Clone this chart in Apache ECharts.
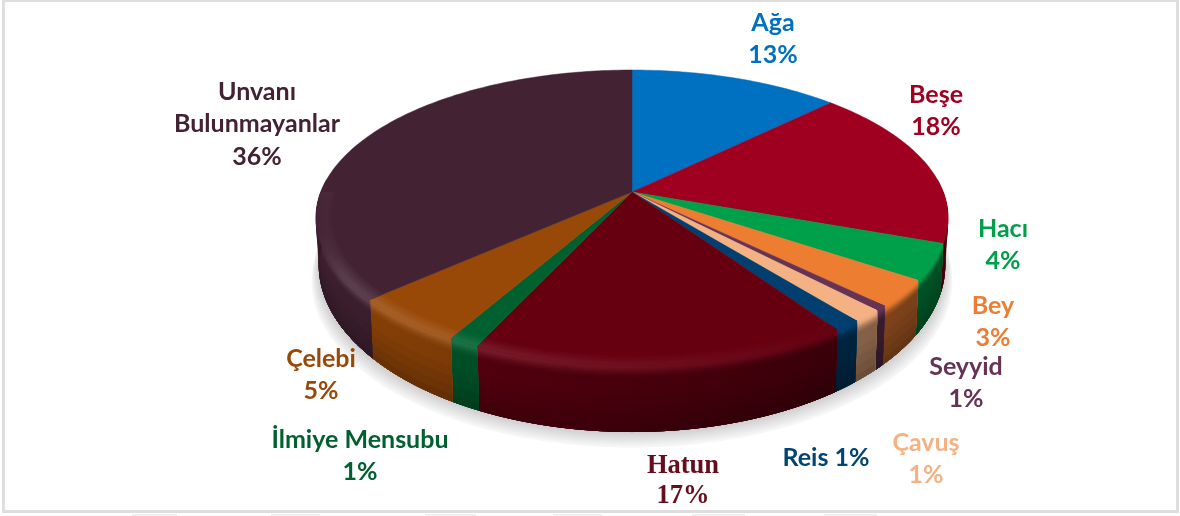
<!DOCTYPE html>
<html><head><meta charset="utf-8">
<style>html,body{margin:0;padding:0;background:#fff}#c{width:1180px;height:516px}</style>
<script src="https://cdn.jsdelivr.net/npm/echarts@6/dist/echarts.min.js"></script>
</head><body><div id="c"></div>
<script>
const categories = ['Ağa','Beşe','Hacı','Bey','Seyyid','Çavuş','Reis','Hatun','İlmiye Mensubu','Çelebi','Unvanı Bulunmayanlar'];
const percentLabels = [13,18,4,3,1,1,1,17,1,5,36];
const sliceShares = [12.7,17.8,3.9,2.95,0.55,1.35,1.2,16.45,1.35,5.15,36.6];

const faceColors = ['#0070c0','#a00020','#00a04a','#ed7d31','#663355','#f4b183','#003f6f','#660011','#00602f','#984807','#432233'];
const textColors = ['#0070c0','#a00020','#00a04a','#ed7d31','#663355','#f4b183','#004574','#660d1e','#00602f','#984807','#432233'];
const labelPlace = [[773,39],[936,111],[1003,245],[993,322],[966,383],[926,459],[826,458],[683,481],[360,456],[321,375],[257,124]];
const ghostSpans = [[132,177],[271,320],[425,476],[553,602],[692,745],[824,877]];

const G = {cx:632, cy:192, a:311.2, b:143.1, k:0.173, sx:0.99, sy:1.13, h:44};
const RAD=Math.PI/180;
function topPt(th, r){ r = r===undefined?1:r;
  const u=r*Math.sin(th), v=-r*Math.cos(th), w=1-G.k*v;
  return [G.cx+G.a*u/w, G.cy+G.b*v/w];
}
function bot(th){
  const p=topPt(th);
  return [G.cx+G.sx*(p[0]-G.cx), G.cy+G.h+G.sy*(p[1]-G.cy)];
}
function side(th, d){
  const a=topPt(th), b=bot(th);
  const t=Math.min(1,d/(b[1]-a[1]));
  return [a[0]+(b[0]-a[0])*t, a[1]+(b[1]-a[1])*t];
}
function rgb(h){return [1,3,5].map(i=>parseInt(h.substr(i,2),16));}
function css(c){return 'rgb('+c.map(v=>Math.round(Math.max(0,Math.min(255,v)))).join(',')+')';}
function mix(c,d,t){return c.map((v,i)=>v+(d[i]-v)*t);}
function mul(c,f){return c.map(v=>v*f);}
function clamp(v){return Math.max(0,Math.min(1,v));}
function hlAt(x){return 0.15*clamp((x-316)/30)*clamp(1-(x-340)/510);}
function sideF(x){return 0.9-0.4*clamp((x-320)/610);}

const cum=[0]; sliceShares.forEach(s=>cum.push(cum[cum.length-1]+s));
const total=cum[cum.length-1];
const ang=i=>cum[i]/total*2*Math.PI;
const WHITE=[255,255,255];

function arcRange(lo,hi,fn){
  const n=Math.max(2,Math.ceil((hi-lo)/RAD)), out=[];
  for(let j=0;j<=n;j++) out.push(fn(lo+(hi-lo)*j/n));
  return out;
}
function xGrad(lo,hi,colorAt){
  const xs=arcRange(lo,hi,t=>topPt(t)[0]);
  const x0=Math.min.apply(null,xs), x1=Math.max(Math.max.apply(null,xs),x0+1);
  const stops=[];
  for(let q=0;q<=6;q++){const f=q/6;stops.push({offset:f,color:css(colorAt(x0+(x1-x0)*f))});}
  return {type:'linear',x:x0,y:0,x2:x1,y2:0,global:true,colorStops:stops};
}
const SHADOW_STEPS=[16,14,12,10,8,6,4,2];
const BEVEL=[[0,0.95],[2,0.9],[4,0.7],[6,0.45],[8,0.25],[10,0.1]];
const BODY=[[0.3,1],[0.45,0.96],[0.6,0.91],[0.75,0.86],[0.9,0.8]];
function renderSide(p,api){
  const i=p.dataIndex, s=ang(i), e=ang(i+1), col=rgb(faceColors[i]);
  const ch=[];
  if(i===0){
    const rim=arcRange(70*RAD,290*RAD,bot);
    SHADOW_STEPS.forEach((off,n)=>{
      const g=Math.round(246-n*5.5);
      const outer=rim.map(q=>[G.cx+(q[0]-G.cx)*(1+off*0.0015),q[1]+off]);
      ch.push({type:'polygon',shape:{points:outer},style:{fill:'rgb('+g+','+g+','+g+')'}});
    });
  }
  const lo=Math.max(s,85*RAD), hi=Math.min(e,275*RAD);
  if(hi<=lo) return {type:'group',children:ch};
  const lower=arcRange(lo,hi,bot).reverse();
  const add=(upper,fill)=>ch.push({type:'polygon',shape:{points:upper.concat(lower)},style:{fill:fill,stroke:fill,lineWidth:0.5}});
  BEVEL.forEach(b=>{
    add(arcRange(lo,hi,t=>side(t,b[0])),
      xGrad(lo,hi,x=>{const base=mul(col,sideF(x));return mix(base,mix(col,WHITE,hlAt(x)),b[1]);}));
  });
  add(arcRange(lo,hi,t=>side(t,12)),xGrad(lo,hi,x=>mul(col,sideF(x))));
  BODY.forEach(b=>{
    add(arcRange(lo,hi,t=>{const a=topPt(t),c=bot(t);return [a[0]+(c[0]-a[0])*b[0],a[1]+(c[1]-a[1])*b[0]];}),
      xGrad(lo,hi,x=>mul(col,sideF(x)*b[1])));
  });
  return {type:'group',children:ch};
}
function renderTop(p,api){
  const i=p.dataIndex, s=ang(i), e=ang(i+1), col=rgb(faceColors[i]);
  const c=faceColors[i];
  const pts=[[G.cx,G.cy]].concat(arcRange(s,e,t=>topPt(t)));
  const ch=[{type:'polygon',shape:{points:pts},style:{fill:c,stroke:c,lineWidth:0.5}}];
  const lo=Math.max(s,90*RAD), hi=Math.min(e,270*RAD);
  if(hi>lo){
    [[0.955,0.2],[0.965,0.4],[0.975,0.6],[0.985,0.8],[0.993,0.9]].forEach(r=>{
      const fill=xGrad(lo,hi,x=>mix(col,WHITE,hlAt(x)*r[1]));
      const inner=arcRange(lo,hi,t=>topPt(t,r[0]));
      const outer=arcRange(lo,hi,t=>topPt(t)).reverse();
      ch.push({type:'polygon',shape:{points:inner.concat(outer)},style:{fill:fill}});
    });
  }
  return {type:'group',children:ch};
}
function labelText(i){
  const name=categories[i], pct=percentLabels[i]+'%';
  if(name==='Reis') return name+' '+pct;
  if(name==='Unvanı Bulunmayanlar') return 'Unvanı\nBulunmayanlar\n'+pct;
  return name+'\n'+pct;
}
function renderLabel(p,api){
  const i=p.dataIndex, pos=labelPlace[i];
  const serif=categories[i]==='Hatun';
  return {type:'text',style:{text:labelText(i),x:pos[0],y:pos[1],align:'center',verticalAlign:'middle',
    fill:textColors[i],lineHeight:serif?30:32.5,
    font:serif?'bold 26.5px "Liberation Serif"':'bold 25px Lato'}};
}
const rows=categories.map((c,i)=>({name:c,value:[i,sliceShares[i]]}));
const mk=(fn,z)=>({type:'custom',coordinateSystem:'none',renderItem:fn,data:rows,z:z,silent:true,animation:false,clip:false});
const chart=echarts.init(document.getElementById('c'),null,{renderer:'canvas'});
chart.setOption({
  animation:false,backgroundColor:'#fff',
  graphic:[
    {type:'rect',silent:true,shape:{x:3.5,y:0.5,width:1174,height:511},style:{fill:'none',stroke:'#dedede',lineWidth:3}}
  ].concat(ghostSpans.map(g=>({type:'rect',silent:true,shape:{x:g[0],y:514,width:g[1]-g[0],height:2},style:{fill:'#f0f0f0'}}))),
  series:[mk(renderSide,2),mk(renderTop,3),mk(renderLabel,4)]
});
</script></body></html>
